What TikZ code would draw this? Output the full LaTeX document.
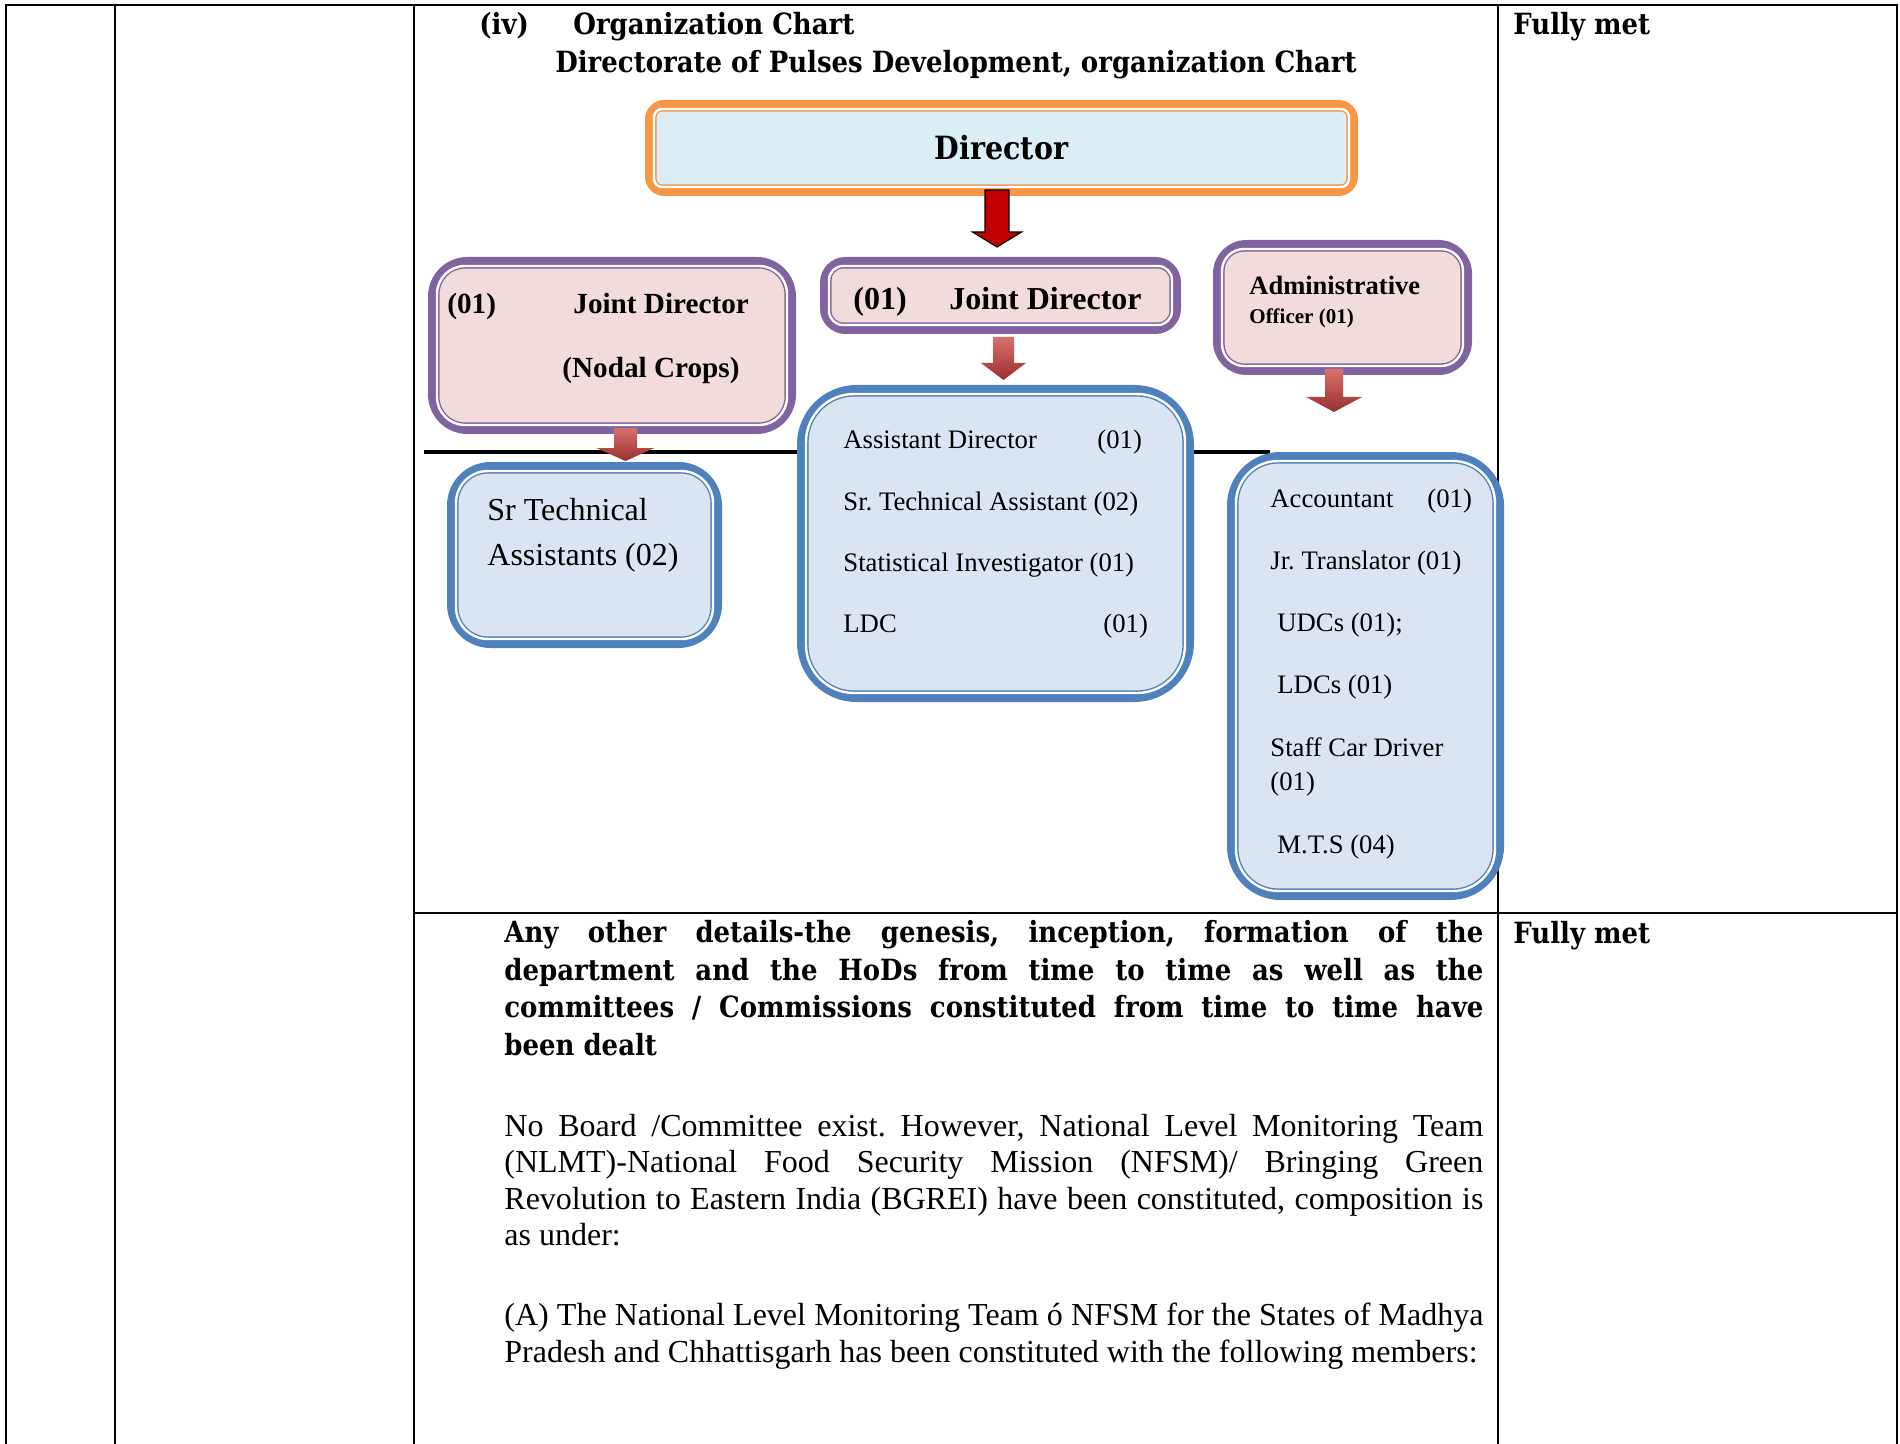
\documentclass[tikz,border=0pt]{standalone}
\usepackage{fontspec}
\setmainfont{Liberation Serif}
\newfontfamily\camb[FakeStretch=0.89]{DejaVu Serif}
\usepackage{tikz}
\usetikzlibrary{positioning,calc}
\definecolor{dirline}{HTML}{F79646}
\definecolor{dirfill}{HTML}{DAEEF3}
\definecolor{jdline}{HTML}{8064A2}
\definecolor{jdfill}{HTML}{F2DCDB}
\definecolor{stline}{HTML}{4F81BD}
\definecolor{stfill}{HTML}{DBE5F1}
\definecolor{arrred}{HTML}{C00000}
\definecolor{arrtop}{HTML}{D8706D}
\definecolor{arrbot}{HTML}{9A302E}
\frenchspacing

% thin inner line of a box: node, colour, radius
\newcommand{\boxring}[3]{\draw[#2,double=white,line width=0.7pt,double distance=1.2pt,rounded corners=#3] ([shift={(9,9)}]#1.north west) rectangle ([shift={(-9,-9)}]#1.south east);}
% block arrow pointing down: style, top, tip, half shaft, half head, head length
\newcommand{\blockdown}[6]{\path[#1] ($(#2)+(-#4,0)$) -- ($(#2)+(#4,0)$) -- ($(#3)+(#4,-#6)$) -- ($(#3)+(#5,-#6)$) -- (#3) -- ($(#3)+(-#5,-#6)$) -- ($(#3)+(-#4,-#6)$) -- cycle;}

\begin{document}
\begin{tikzpicture}[x=0.5pt,y=-0.5pt,
  grid/.style={line width=1pt,line cap=rect},
  org/.style 2 args={draw=#1,fill=#2,line width=3.5pt,inner sep=0pt},
  hd/.style={font=\camb\bfseries\fontsize{14.6}{18.8}\selectfont,inner sep=0pt,anchor=base west},
  jd/.style={font=\bfseries\fontsize{16}{19}\selectfont,inner sep=0pt,anchor=base west},
  jds/.style={font=\bfseries\fontsize{14.6}{17}\selectfont,inner sep=0pt,anchor=base west},
  itm/.style={font=\fontsize{13.35}{16}\selectfont,inner sep=0pt,anchor=base west},
  txt/.style={font=\fontsize{16}{18.3}\selectfont,inner sep=0pt,anchor=north west,text width=489.5pt,align=justify},
  shade/.style={top color=arrtop,bottom color=arrbot},
  solid/.style={fill=arrred,draw=black,line width=0.6pt}
]
\useasboundingbox (0,0) rectangle (1900,1444);

% table
\draw[grid] (6,5) -- (1897,5);
\foreach \x in {6,115,414,1498,1897} \draw[grid] (\x,5) -- (\x,1444);
\draw[grid] (414,913) -- (1897,913);

\node[hd] (iv) at (479,35) {(iv)};
\node[hd] (oc) at (573,35) {Organization Chart};
\node[hd,anchor=base] (dpd) at (956,73) {Directorate of Pulses Development, organization Chart};
\node[hd] (fm1) at (1513,35) {Fully met};
\node[hd] (fm2) at (1513,943) {Fully met};

% chart
\coordinate (hl1) at (424,452);
\coordinate (hl2) at (1270,452);
\draw[line width=1.7pt] (hl1) -- (hl2);

\node[org={dirline}{dirfill},rounded corners=8pt,minimum width=353pt,minimum height=44.5pt,font=\camb\bfseries\fontsize{16}{19}\selectfont] (dir) at (1001.5,148) {Director};
\node[org={jdline}{jdfill},rounded corners=18pt,minimum width=180.5pt,minimum height=85pt] (jdl) at (612,345.5) {};
\node[org={jdline}{jdfill},rounded corners=11pt,minimum width=177pt,minimum height=35pt] (jdm) at (1000.5,295.5) {};
\node[org={jdline}{jdfill},rounded corners=15pt,minimum width=126pt,minimum height=64pt] (ao) at (1342.5,307.5) {};
\node[org={stline}{stfill},rounded corners=20pt,minimum width=134pt,minimum height=89.5pt] (sta) at (584.5,555) {};
\node[org={stline}{stfill},rounded corners=28pt,minimum width=195pt,minimum height=155pt] (mlist) at (995.5,543.5) {};
\node[org={stline}{stfill},rounded corners=25pt,minimum width=135pt,minimum height=220.5pt] (rlist) at (1365.5,676) {};
\boxring{dir}{dirline}{4pt}
\boxring{jdl}{jdline}{14pt}
\boxring{jdm}{jdline}{7pt}
\boxring{ao}{jdline}{11pt}
\boxring{sta}{stline}{16pt}
\boxring{mlist}{stline}{24pt}
\boxring{rlist}{stline}{21pt}

\coordinate (a1s) at ($(dir.south)+(-4.5,-6)$);
\coordinate (a1e) at ($(jdm.north)+(-3.5,-10)$);
\coordinate (a2s) at ($(jdm.south)+(3,3)$);
\coordinate (a2e) at ($(mlist.north)+(8,-5)$);
\coordinate (a3s) at ($(jdl.south)+(13.5,-6)$);
\coordinate (a3e) at ($(sta.north)+(41,-1)$);
\coordinate (a4s) at ($(ao.south)+(-8.5,-6)$);
\coordinate (a4e) at ($(rlist.north)+(-31.5,-40)$);
\blockdown{solid}{a1s}{a1e}{12}{24.5}{15}
\blockdown{shade}{a2s}{a2e}{10.5}{22.5}{17}
\blockdown{shade}{a3s}{a3e}{11.5}{29}{13}
\blockdown{shade}{a4s}{a4e}{9}{28}{15}

\node[jds] (jdlno) at (447,314) {(01)};
\node[jds] (jdltx) at (573,314) {Joint Director};
\node[jds] (nodal) at (562,378) {(Nodal Crops)};
\node[jd] (jdmno) at (853,310) {(01)};
\node[jd] (jdmtx) at (949,310) {Joint Director};
\node[jd,font=\bfseries\fontsize{13.25}{16}\selectfont] (aotx) at (1249,295) {Administrative};
\node[jd,font=\bfseries\fontsize{10.5}{13}\selectfont] (aooff) at (1249,324) {Officer (01)};

\node[itm,font=\fontsize{16}{19}\selectfont] (st1) at (487,520) {Sr Technical};
\node[itm,font=\fontsize{16}{19}\selectfont] (st2) at (487,565) {Assistants (02)};

\node[itm] (m1) at (843,449) {Assistant Director};
\node[itm] (m1n) at (1097,449) {(01)};
\node[itm] (m2) at (843,510) {Sr. Technical Assistant (02)};
\node[itm] (m3) at (843,571) {Statistical Investigator (01)};
\node[itm] (m4) at (843,632) {LDC};
\node[itm] (m4n) at (1103,632) {(01)};

\node[itm] (r1) at (1270,507) {Accountant};
\node[itm] (r1n) at (1427,507) {(01)};
\node[itm] (r2) at (1270,569) {Jr. Translator (01)};
\node[itm] (r3) at (1277,631) {UDCs (01);};
\node[itm] (r4) at (1277,693) {LDCs (01)};
\node[itm] (r5) at (1270,756) {Staff Car Driver};
\node[itm] (r6) at (1270,790) {(01)};
\node[itm] (r7) at (1277,853) {M.T.S (04)};

% text below the chart
\node[txt,font=\camb\bfseries\fontsize{14.6}{18.8}\selectfont] (genesis) at (504,920) {Any other details-the genesis, inception, formation of the\linebreak department and the HoDs from time to time as well as the\linebreak committees / Commissions constituted from time to time have\linebreak been dealt};
\node[txt] (nlmt) at (504,1113.5) {No Board /Committee exist. However, National Level Monitoring Team\linebreak (NLMT)-National Food Security Mission (NFSM)/ Bringing Green\linebreak Revolution to Eastern India (BGREI) have been constituted, composition is\linebreak as under:};
\node[txt] (nfsm) at (504,1303) {(A) The National Level Monitoring Team ó NFSM for the States of Madhya\linebreak Pradesh and Chhattisgarh has been constituted with the following members:};
\end{tikzpicture}
\end{document}
